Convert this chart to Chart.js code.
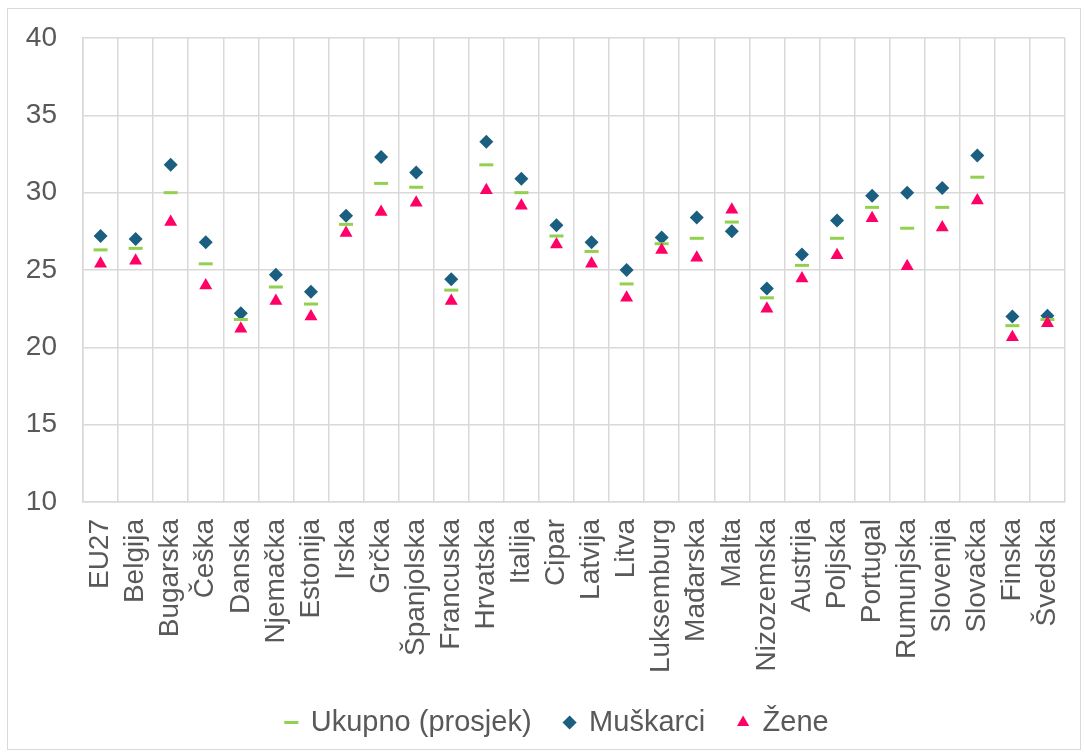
<!DOCTYPE html>
<html>
<head>
<meta charset="utf-8">
<script src="https://cdn.jsdelivr.net/npm/chart.js@4"></script>
<style>
  body { margin: 0; background: #fff; }
  #box {
    position: absolute; left: 7px; top: 8px;
    width: 1072px; height: 740px;
    border: 1px solid #D9D9D9;
  }
</style>
</head>
<body>
<div id="box"><canvas id="chart" width="1072" height="740"></canvas></div>
<script>
// kategorije (države)
const categories = ['EU27', 'Belgija', 'Bugarska', 'Češka', 'Danska', 'Njemačka', 'Estonija', 'Irska', 'Grčka',
  'Španjolska', 'Francuska', 'Hrvatska', 'Italija', 'Cipar', 'Latvija', 'Litva', 'Luksemburg', 'Mađarska',
  'Malta', 'Nizozemska', 'Austrija', 'Poljska', 'Portugal', 'Rumunjska', 'Slovenija', 'Slovačka', 'Finska', 'Švedska'];

const ukupno = [26.3, 26.4, 30.0, 25.4, 21.8, 23.9, 22.8, 27.95, 30.6, 30.35, 23.7, 31.8, 30.0, 27.2, 26.2, 24.1,
  26.7, 27.05, 28.1, 23.2, 25.3, 27.05, 29.05, 27.7, 29.05, 31.0, 21.4, 21.8];
const muskarci = [27.2, 27.0, 31.8, 26.8, 22.2, 24.7, 23.6, 28.5, 32.3, 31.3, 24.4, 33.3, 30.9, 27.9, 26.8, 25.0,
  27.1, 28.4, 27.5, 23.8, 26.0, 28.2, 29.8, 30.0, 30.3, 32.4, 22.0, 22.05];
const zene = [25.4, 25.6, 28.1, 24.0, 21.2, 23.0, 22.0, 27.4, 28.75, 29.35, 23.0, 30.15, 29.15, 26.65, 25.4, 23.2,
  26.3, 25.8, 28.9, 22.5, 24.45, 25.95, 28.35, 25.25, 27.75, 29.5, 20.65, 21.55];

const yTicks = [10, 15, 20, 25, 30, 35, 40];

const gridColor = '#D9D9D9';
const textColor = '#595959';
const font = { family: '"Liberation Sans", Arial, sans-serif', size: 28 };
const legendFont = { family: '"Liberation Sans", Arial, sans-serif', size: 29 };

// legenda je u originalu malo pomaknuta udesno
const legendShift = {
  id: 'legendShift',
  afterLayout(chart) {
    chart.legend.left += 21;
    chart.legend.right += 21;
  }
};

new Chart(document.getElementById('chart').getContext('2d'), {
  type: 'line',
  data: {
    labels: categories,
    datasets: [
      {
        label: 'Ukupno (prosjek)',
        data: ukupno,
        showLine: false,
        pointStyle: 'line',
        pointRadius: 7,
        pointBorderWidth: 3,
        borderWidth: 3,
        borderColor: '#92D050',
        backgroundColor: '#92D050',
        order: 2
      },
      {
        label: 'Muškarci',
        data: muskarci,
        showLine: false,
        pointStyle: 'rectRot',
        pointRadius: 7,
        pointBorderWidth: 0,
        borderWidth: 0,
        borderColor: '#1A5E80',
        backgroundColor: '#1A5E80',
        order: 3
      },
      {
        label: 'Žene',
        data: zene,
        showLine: false,
        pointStyle: 'triangle',
        pointRadius: 7.5,
        pointBorderWidth: 0,
        borderWidth: 0,
        borderColor: '#FF0066',
        backgroundColor: '#FF0066',
        order: 1
      }
    ]
  },
  options: {
    responsive: false,
    animation: false,
    layout: { padding: { left: 0, top: 29, right: 15, bottom: 2 } },
    scales: {
      x: {
        offset: true,
        grid: { color: gridColor, lineWidth: 1.5, drawTicks: false, offset: true },
        border: { color: gridColor, width: 1.5 },
        afterFit: (scale) => { scale.paddingLeft = 0; scale.paddingRight = 0; scale.height = 173; },
        ticks: {
          color: textColor, font: font, padding: 17,
          minRotation: 90, maxRotation: 90, autoSkip: false
        }
      },
      y: {
        min: 10,
        max: 40,
        grid: { color: gridColor, lineWidth: 1.5, drawTicks: false },
        border: { color: gridColor, width: 1.5 },
        afterFit: (scale) => { scale.width = 75; scale.paddingTop = 0; scale.paddingBottom = 0; },
        afterBuildTicks: (scale) => { scale.ticks = yTicks.map(v => ({ value: v })); },
        ticks: { color: textColor, font: font, padding: 26 }
      }
    },
    plugins: {
      tooltip: { enabled: false },
      legend: {
        position: 'bottom',
        labels: {
          color: textColor,
          font: legendFont,
          usePointStyle: true,
          boxWidth: 10,
          boxHeight: 10,
          padding: 33,
          sort: (a, b) => a.datasetIndex - b.datasetIndex
        }
      }
    }
  },
  plugins: [legendShift]
});
</script>
</body>
</html>
